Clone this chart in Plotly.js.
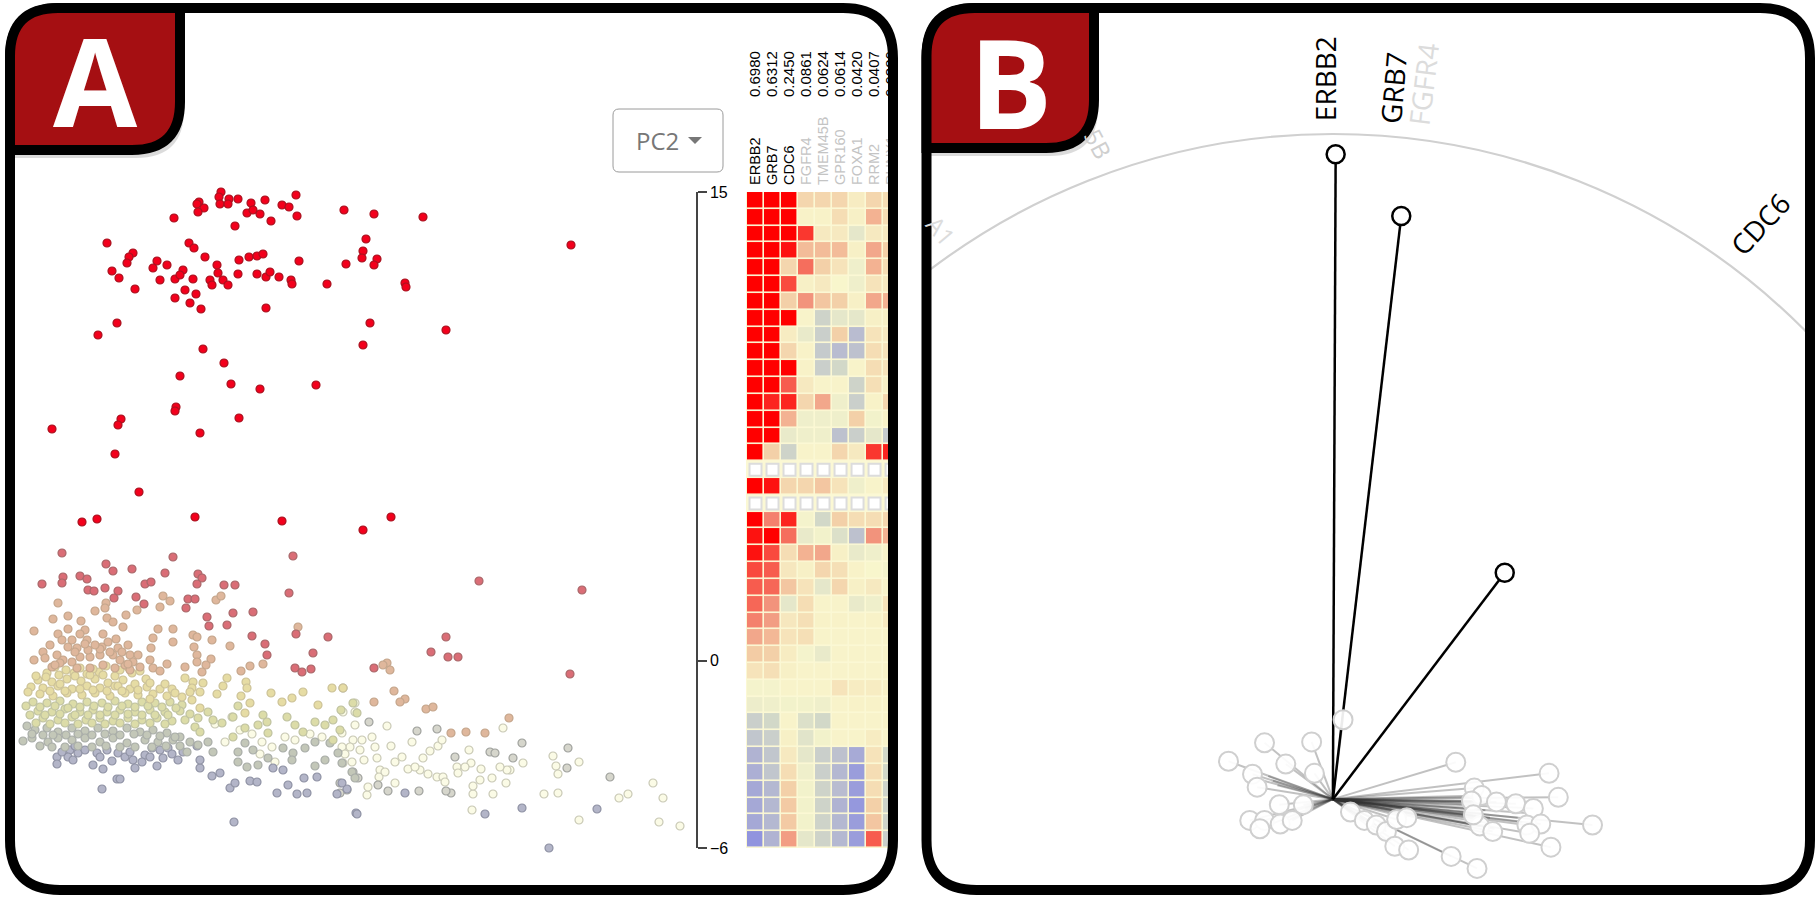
<!DOCTYPE html>
<html>
<head>
<meta charset="utf-8">
<script src="https://cdn.plot.ly/plotly-3.0.1.min.js"></script>
<style>body{margin:0;background:#fff}#graph{width:1820px;height:900px}</style>
</head>
<body>
<div id="graph"></div>
<script>
// Panel A samples, hidden score axes, grouped by the colour they show in the picture
var redX = [296,265,221,219,229,238,199,197,204,198,220,228,251,247,253,260,282,289,297,271,235,174,344,374,423,366,107,189,194,133,129,127,205,217,239,249,257,263,299,363,362,377,374,346,157,153,167,183,112,119,135,160,175,193,180,210,212,218,223,228,238,257,266,270,279,291,292,327,405,406,185,196,175,190,201,266,117,98,370,446,571,363,203,224,180,231,260,316,176,175,239,121,118,52,200,115,139,82,97,195,282,363,391];
var redY = [467,462,470,465,463,463,460,458,454,450,458,458,459,449,452,448,457,455,446,441,436,444,452,448,445,423,419,419,414,409,405,399,405,397,402,405,406,408,401,411,404,403,397,398,401,394,397,392,391,384,373,382,383,383,387,382,377,389,382,377,388,388,385,390,385,382,378,378,379,375,372,368,364,359,353,354,339,327,339,332,417,317,313,299,286,278,273,277,255,251,244,243,237,233,229,208,170,140,143,145,141,132,145];
var roseX = [62,173,293,106,113,132,165,198,202,197,63,62,42,80,87,88,94,105,118,114,145,151,136,144,224,235,289,188,195,186,233,253,207,209,227,296,328,252,265,267,313,295,302,311,479,582,446,431,448,458,570,374];
var roseY = [109,105,106,98,91,93,89,88,84,78,85,79,78,86,83,72,71,74,71,64,78,80,65,58,77,77,69,63,63,54,49,50,45,36,37,28,25,26,18,7,9,-6,-10,-7,81,72,25,10,5,5,-12,-6];
var tanX = [216,221,163,170,160,137,298,230,387,383,390,394,405,400,426,433,451,466,485,509,374,58,68,53,81,95,106,105,107,113,126,123,34,68,58,85,80,103,116,87,158,173,153,173,193,197,212,151,102,128,77,50,68,194,197,211,130,133,125,57,63,43,34,150,185,167,153,197,206,250,263,241,202,160,90,80,72,113,120,130,100,52,60,77,90,103,115,45,55,75,88,100,110,118,128,140,62,72,85,95,108,122,138];
var tanY = [62,66,66,61,55,52,35,16,-1,-3,-8,-29,-37,-40,-47,-45,-71,-70,-71,-56,-40,59,46,43,41,51,59,54,44,40,47,35,31,33,28,32,28,28,23,22,33,33,24,20,27,25,22,14,15,17,14,17,15,15,7,3,7,0,-3,7,2,10,2,2,-5,-2,-6,0,-3,-4,-2,-9,-10,-9,5,5,0,7,2,-8,7,-5,-1,-6,-6,-3,-6,4,-3,10,12,13,10,14,-2,-5,22,22,18,17,20,10,7];
var yellowX = [47,59,74,87,99,115,132,38,52,67,81,95,108,123,146,31,43,58,72,87,100,115,130,147,160,172,40,53,67,82,95,110,125,138,153,167,182,185,193,203,192,200,227,223,246,247,217,241,271,292,303,332,343,282,318,250,245,192,200,55,66,80,93,106,120,128,140,36,46,60,75,90,103,118,135,150,165,28,50,65,80,93,107,122,138,150,175,190];
var yellowY = [-11,-13,-11,-12,-10,-14,-11,-18,-20,-17,-19,-17,-21,-18,-17,-25,-26,-24,-27,-24,-26,-24,-27,-25,-27,-27,-32,-34,-31,-33,-31,-34,-31,-33,-32,-34,-35,-16,-20,-21,-26,-30,-16,-24,-20,-26,-32,-34,-31,-36,-30,-26,-26,-40,-43,-41,-51,-38,-46,-5,-8,-6,-7,-4,-8,-5,-9,-14,-15,-22,-14,-13,-13,-24,-22,-21,-22,-30,-29,-29,-27,-28,-29,-29,-28,-37,-31,-30];
var limeX = [33,47,60,73,87,102,115,128,142,155,170,182,38,52,65,80,93,107,120,135,150,165,180,43,58,72,86,100,113,128,142,157,172,185,208,213,222,233,238,263,267,258,245,287,295,303,315,325,333,341,340,333,353,357,195,200,233,268,26,40,55,68,80,94,108,122,135,148,162,176,30,45,60,75,88,100,115,128,142,155,168,36,50,65,78,92,105,120,135,150,165,190,198];
var limeY = [-40,-41,-39,-42,-40,-41,-39,-42,-40,-41,-40,-43,-49,-50,-47,-50,-48,-50,-48,-50,-48,-50,-49,-56,-58,-55,-58,-56,-59,-56,-58,-56,-59,-58,-50,-58,-61,-55,-44,-53,-60,-63,-66,-55,-63,-70,-60,-63,-58,-48,-68,-78,-41,-51,-65,-70,-75,-71,-44,-45,-44,-46,-45,-44,-45,-44,-45,-44,-45,-46,-53,-53,-52,-53,-53,-53,-53,-52,-53,-53,-53,-61,-62,-61,-62,-61,-62,-61,-62,-61,-62,-52,-56];
var greyX = [27,35,47,58,72,85,98,113,127,140,153,167,180,23,32,48,58,72,85,100,113,127,145,158,173,208,198,187,213,245,253,283,293,305,238,268,258,238,247,292,315,325,338,342,352,355,315,330,32,43,53,66,78,92,105,120,134,147,160,175,190,40,52,65,78,92,106,120,135,152,166,180];
var greyY = [-64,-68,-66,-70,-66,-69,-66,-69,-66,-70,-68,-71,-75,-79,-76,-80,-76,-78,-76,-80,-76,-81,-78,-80,-78,-80,-83,-90,-90,-81,-88,-86,-91,-86,-90,-96,-103,-100,-105,-98,-104,-98,-91,-101,-110,-116,-80,-81,-72,-73,-73,-73,-72,-73,-72,-73,-72,-73,-74,-75,-80,-84,-85,-85,-84,-85,-84,-85,-85,-85,-84,-84];
var slateX = [57,57,70,68,78,73,93,97,107,103,118,125,133,135,145,152,160,168,163,157,117,120,102,197,200,200,183,212,220,250,257,230,235,273,283,277,288,297,307,304,317,337,347,342,356,234,522,597,549,485,405,357,62,75,85,100,112,130,142,150,172,178];
var slateY = [-95,-102,-88,-95,-91,-98,-103,-91,-88,-107,-91,-95,-98,-106,-93,-86,-88,-86,-96,-104,-117,-117,-127,-84,-106,-98,-90,-114,-111,-119,-120,-126,-121,-106,-108,-131,-123,-132,-131,-116,-115,-132,-127,-121,-151,-160,-146,-147,-186,-152,-131,-152,-90,-84,-88,-95,-99,-90,-100,-95,-92,-98];
var ashX = [369,417,437,522,568,567,610,451,446,419,388,347,378,353,358,455,490,495,513,340,340,343];
var ashY = [-60,-69,-67,-81,-86,-106,-115,-131,-129,-129,-129,-128,-123,-110,-116,-95,-90,-91,-96,-121,-131,-26];
var paleX = [387,355,503,553,556,579,558,628,619,663,544,558,579,659,680,472,493,473,473,506,395,367,368,380,379,364,377,402,391,412,423,408,420,430,438,442,469,471,510,507,523,481,492,457,458,437,443,362,372,353,350,343,343,355,355,342,342,653,232,240,252,262,272,285,295,310,322,345,352,360,375,385,395,415,428,445,465,480,500,215,225,260,275];
var paleY = [-64,-63,-66,-94,-104,-100,-112,-132,-136,-136,-132,-131,-158,-160,-164,-148,-132,-132,-124,-121,-121,-133,-125,-108,-115,-98,-96,-95,-84,-80,-96,-107,-108,-89,-84,-78,-88,-101,-108,-108,-101,-107,-116,-105,-111,-115,-115,-78,-75,-78,-85,-101,-50,-41,-50,-71,-85,-121,-55,-68,-72,-80,-85,-75,-78,-72,-75,-92,-100,-88,-85,-110,-100,-105,-112,-120,-105,-118,-105,-62,-80,-92,-100];

// Panel A heatmap: one row per PC2 bin from top (15) to bottom (-6), blank bins are null
var geneNames = ['ERBB2', 'GRB7', 'CDC6', 'FGFR4', 'TMEM45B', 'GPR160', 'FOXA1', 'RRM2', 'RUNX1'];
var geneLoadings = ['0.6980', '0.6312', '0.2450', '0.0861', '0.0624', '0.0614', '0.0420', '0.0407', '0.0380'];
var blankBins = [6.11, 5.03];
var heatRows = [
    [1, 1, 1, .25, .25, .25, .08, .25, .2],
    [1, 1, 1, .03, .03, .2, .05, .45, .2],
    [1, 1, 1, .85, .1, .1, -.1, .1, .1],
    [1, 1, .95, .4, .4, .4, .05, .5, .3],
    [1, 1, .25, .7, .3, .15, -.05, .45, .2],
    [1, 1, .8, .05, .1, 0, -.05, .15, .1],
    [1, 1, .3, .6, .35, .3, .05, .5, .45],
    [1, 1, 1, .02, -.25, -.1, -.1, .05, .05],
    [1, 1, .08, -.08, -.3, .3, -.5, .15, .1],
    [1, 1, .25, .03, -.35, -.5, -.45, .2, .15],
    [1, 1, 1, .03, -.3, -.2, .02, .2, .15],
    [1, 1, .75, .1, .02, .02, -.25, .18, .05],
    [1, .9, .9, .25, .5, -.05, -.3, .03, .25],
    [1, 1, .45, -.05, -.05, -.05, .3, -.03, .03],
    [1, 1, -.08, -.05, -.05, -.45, -.3, -.1, -.35],
    [1, .3, -.25, .02, .02, .25, .1, .85, .9],
    [null, null, null, null, null, null, null, null, null],
    [1, .95, .25, .25, .35, .15, -.05, .02, .1],
    [null, null, null, null, null, null, null, null, null],
    [1, .65, .9, -.02, -.2, .3, .2, .2, .25],
    [.95, 1, .7, -.08, -.03, -.15, -.45, .6, .45],
    [.95, .8, .2, .45, .5, .05, -.08, -.05, .02],
    [.8, .75, .12, .05, .25, .18, .03, 0, -.02],
    [.75, .72, .35, .15, -.1, .25, .05, .1, .02],
    [.72, .6, -.1, .2, .02, .02, -.08, -.05, .15],
    [.65, .55, .12, .18, .03, .03, .02, .03, .1],
    [.5, .42, .15, .18, .02, .02, .02, .02, .02],
    [.32, .3, .08, -.02, -.08, .02, .02, .02, .02],
    [.15, .18, .05, .02, .02, .02, .02, .02, .02],
    [-.02, -.02, .02, .02, .02, .15, .08, .08, .05],
    [-.06, -.05, -.03, -.03, -.05, .02, .03, .03, .02],
    [-.3, -.2, .02, -.15, -.2, .02, .02, .02, .02],
    [-.4, -.3, .05, -.12, -.03, .02, .02, .08, .02],
    [-.6, -.4, .1, -.1, -.3, -.45, -.7, .15, -.2],
    [-.65, -.4, .2, -.05, -.3, -.55, -.85, .2, -.2],
    [-.72, -.55, .3, -.03, -.25, -.5, -.85, .2, -.25],
    [-.72, -.55, .33, -.03, -.25, -.6, -.9, .3, -.25],
    [-.72, -.55, .33, -.03, -.25, -.55, -.85, .35, -.25],
    [-.95, -.6, .55, -.1, -.25, -.55, -.85, .75, -.3]
];

// Panel B loadings
var topGeneX = [0.003, 0.074, 0.186];
var topGeneY = [0.698, 0.6312, 0.245];
var otherGeneX = [-.113, -.074, -.023, -.051, -.087, -.082, -.020, -.058, -.032, -.090, -.074, -.079, -.057, -.044, .133, .234, .153, .161, .150, .177, .198, .217, .244, .281, .210, .225, .159, .173, .213, .236, .128, .156, .019, .034, .047, .058, .069, .080, .067, .082, .152, .011];
var otherGeneY = [.041, .061, .062, .038, .027, .013, .028, -.006, -.006, -.023, -.023, -.032, -.027, -.023, .040, .028, .012, .004, -.002, -.003, -.005, -.010, .002, -.028, -.028, -.027, -.029, -.035, -.037, -.052, -.062, -.075, -.014, -.023, -.028, -.035, -.022, -.020, -.051, -.055, -.017, .086];
// tips that are mostly hidden in the dense bundles, only their lines show
var bundleGeneX = [.150, .152, .155, .158, .160, .150, .155, .160, .170, .165, .165, .170, .175, .200, .205, .210, -.060, -.065, -.070, -.075, -.030];
var bundleGeneY = [.002, -.002, -.006, -.010, -.015, -.004, -.018, -.022, -.026, -.030, -.012, -.020, -.032, -.020, -.025, -.015, .015, .020, .025, .020, -.010];
var circleRadius = 0.72;

function px(x) { return x / 1820; }
function py(y) { return 1 - y / 900; }

// rounded outline in page pixels, written out as a paper-referenced path
function roundedPath(x0, y0, x1, y1, r) {
    var p = function (x, y) { return px(x) + ' ' + py(y); };
    return 'M' + p(x0 + r, y0) + ' L' + p(x1 - r, y0) + ' Q' + p(x1, y0) + ' ' + p(x1, y0 + r) +
        ' L' + p(x1, y1 - r) + ' Q' + p(x1, y1) + ' ' + p(x1 - r, y1) +
        ' L' + p(x0 + r, y1) + ' Q' + p(x0, y1) + ' ' + p(x0, y1 - r) +
        ' L' + p(x0, y0 + r) + ' Q' + p(x0, y0) + ' ' + p(x0 + r, y0) + ' Z';
}

// badge: rounded at top-left and bottom-right only
function badgePath(x0, y0, x1, y1, r) {
    var p = function (x, y) { return px(x) + ' ' + py(y); };
    return 'M' + p(x0 + r, y0) + ' L' + p(x1, y0) + ' L' + p(x1, y1 - r) + ' Q' + p(x1, y1) + ' ' + p(x1 - r, y1) +
        ' L' + p(x0, y1) + ' L' + p(x0, y0 + r) + ' Q' + p(x0, y0) + ' ' + p(x0 + r, y0) + ' Z';
}

function paperShape(path, fill, lineColor, lineWidth, layer) {
    return {type: 'path', xref: 'paper', yref: 'paper', path: path, fillcolor: fill, layer: layer || 'above',
        line: {color: lineColor, width: lineWidth}};
}

var heatScale = [[0, '#8c8fe0'], [0.2, '#b0b3d2'], [0.4, '#d2d8c8'], [0.5, '#f8f6cc'], [0.65, '#f3d0a8'], [0.8, '#f2937c'], [1, '#ff0000']];

var bands = [
    [paleX, paleY, '#fbfbe6', '#c9c9b6'],
    [ashX, ashY, '#d6d6cc', '#a0a29e'],
    [slateX, slateY, '#b3b5c8', '#8f92a4'],
    [greyX, greyY, '#c3c7b8', '#a9ada8'],
    [limeX, limeY, '#dcdca8', '#bfc2a0'],
    [yellowX, yellowY, '#e6dca4', '#ccc298'],
    [tanX, tanY, '#dfb79c', '#c4a68c'],
    [roseX, roseY, '#da6d76', '#a8686a'],
    [redX, redY, '#f3001c', '#a8121f']
];

var data = [];

bands.forEach(function (b) {
    data.push({type: 'scatter', mode: 'markers', x: b[0], y: b[1], xaxis: 'x', yaxis: 'y', hoverinfo: 'skip',
        marker: {size: 8, color: b[2], line: {color: b[3], width: 1.2}}});
});

data.push({type: 'heatmap', z: heatRows, x0: 0, dx: 1, y0: 14.73, dy: -0.5385, xaxis: 'x2', yaxis: 'y2',
    zmin: -1, zmax: 1, colorscale: heatScale, showscale: false, xgap: 1.6, ygap: 1.6, hoverinfo: 'skip'});

// bins without samples are drawn as empty boxes
var blankX = [], blankY = [];
blankBins.forEach(function (y) {
    geneNames.forEach(function (g, i) { blankX.push(i); blankY.push(y); });
});
data.push({type: 'scatter', mode: 'markers', x: blankX, y: blankY, xaxis: 'x4', yaxis: 'y2', hoverinfo: 'skip', cliponaxis: true,
    marker: {symbol: 'square', size: 12, color: '#ffffff', line: {color: '#dcdcdc', width: 2}}});

// one trace per vector so the grey lines darken where they overlap
otherGeneX.concat(bundleGeneX).forEach(function (x, i) {
    data.push({type: 'scatter', mode: 'lines', x: [0, x], y: [0, otherGeneY.concat(bundleGeneY)[i]], xaxis: 'x3', yaxis: 'y3', hoverinfo: 'skip',
        line: {color: 'rgba(50,50,50,0.3)', width: 2}});
});
topGeneX.forEach(function (x, i) {
    data.push({type: 'scatter', mode: 'lines', x: [0, x], y: [0, topGeneY[i]], xaxis: 'x3', yaxis: 'y3', hoverinfo: 'skip',
        line: {color: '#000000', width: 2.5}});
});
data.push({type: 'scatter', mode: 'markers', x: topGeneX, y: topGeneY, xaxis: 'x3', yaxis: 'y3', hoverinfo: 'skip',
    marker: {size: 18, color: '#ffffff', line: {color: '#000000', width: 2.5}}});
data.push({type: 'scatter', mode: 'markers', x: otherGeneX, y: otherGeneY, xaxis: 'x3', yaxis: 'y3', hoverinfo: 'skip',
    marker: {size: 19, color: 'rgba(255,255,255,0.92)', line: {color: '#cfcfcf', width: 2}}});

var hidden = {visible: false, fixedrange: true};

var geneTicks = geneNames.map(function (g, i) {
    return '<span style="color:' + (i < 3 ? '#000000' : '#c4c4c4') + '">' + g + '</span>';
});

var layout = {
    width: 1820,
    height: 900,
    margin: {l: 0, r: 0, t: 0, b: 0},
    paper_bgcolor: '#ffffff',
    plot_bgcolor: 'rgba(0,0,0,0)',
    showlegend: false,
    font: {family: '"Liberation Sans", Arial, sans-serif', color: '#000000'},
    xaxis: Object.assign({domain: [px(16), px(745)], range: [16, 745]}, hidden),
    yaxis: Object.assign({domain: [py(886), py(13)], range: [-224, 649]}, hidden),
    xaxis2: {domain: [px(747), px(897)], range: [-0.5, 8.32], side: 'top', anchor: 'y2', tickmode: 'array', tickvals: [0, 1, 2, 3, 4, 5, 6, 7, 8],
        ticktext: geneTicks, tickangle: -90, ticks: '', showline: false, showgrid: false, zeroline: false, ticklabelstandoff: 6, tickfont: {size: 14.5}},
    yaxis2: {domain: [py(848), py(192)], range: [-6, 15], side: 'right', anchor: 'free', position: px(697), tickmode: 'array', tickvals: [-6, 0, 15],
        ticktext: ['\u22126', '0', '15'], ticks: 'outside', ticklen: 9, tickwidth: 1.5, linewidth: 1.5, showline: true, showgrid: false, zeroline: false, tickfont: {size: 16}},
    xaxis4: {domain: [px(747), px(897)], range: [-0.5, 8.32], overlaying: 'x2', side: 'top', anchor: 'free', position: py(97), tickmode: 'array', tickvals: [0, 1, 2, 3, 4, 5, 6, 7, 8],
        ticktext: geneLoadings, tickangle: -90, ticks: '', showline: false, showgrid: false, zeroline: false, tickfont: {size: 15}},
    xaxis3: Object.assign({domain: [px(931), px(1805)], range: [-0.435, 0.511]}, hidden),
    yaxis3: Object.assign({domain: [py(886), py(13)], range: [-0.094, 0.851]}, hidden),
    shapes: [
        // cream behind the heatmap cells
        {type: 'rect', xref: 'paper', yref: 'paper', x0: px(746), x1: px(888), y0: py(848), y1: py(192), layer: 'below', fillcolor: '#fbf8d4', line: {width: 0}},
        // outer circle of the biplot
        {type: 'circle', xref: 'x3', yref: 'y3', x0: -circleRadius, x1: circleRadius, y0: -circleRadius, y1: circleRadius, layer: 'below', line: {color: '#d0d0d0', width: 2.2}},
        // PC dropdown
        paperShape(roundedPath(613, 109, 723, 172, 6), '#ffffff', '#9a9a9a', 1),
        paperShape('M' + px(688) + ' ' + py(137) + ' L' + px(702) + ' ' + py(137) + ' L' + px(695) + ' ' + py(144) + ' Z', '#777777', '#777777', 0),
        // panel frames and corner badges
        paperShape(roundedPath(10, 8, 893, 890, 50), 'rgba(0,0,0,0)', '#000000', 10),
        paperShape(roundedPath(926.5, 8, 1810, 890, 50), 'rgba(0,0,0,0)', '#000000', 10),
        paperShape(badgePath(14, 12, 184, 158, 48), 'rgba(0,0,0,0.14)', 'rgba(0,0,0,0)', 0),
        paperShape(badgePath(930, 12, 1098, 156, 48), 'rgba(0,0,0,0.14)', 'rgba(0,0,0,0)', 0),
        paperShape(badgePath(10, 8, 180, 150, 48), '#a50f12', '#000000', 10),
        paperShape(badgePath(926.5, 8, 1094, 148, 48), '#a50f12', '#000000', 10)
    ],
    annotations: [
        // fixed box height keeps the tall line box of the big letters on the page
        {xref: 'paper', yref: 'paper', x: px(95), y: py(80), height: 130, text: 'A', showarrow: false, xanchor: 'center', yanchor: 'middle', font: {family: '"Open Sans", sans-serif', size: 122, color: '#ffffff', weight: 700}},
        {xref: 'paper', yref: 'paper', x: px(1010), y: py(80), height: 130, text: 'B', showarrow: false, xanchor: 'center', yanchor: 'middle', font: {family: '"Open Sans", sans-serif', size: 124, color: '#ffffff', weight: 700}},
        {xref: 'paper', yref: 'paper', x: px(657), y: py(140), text: 'PC2', showarrow: false, xanchor: 'center', yanchor: 'middle', font: {family: '"Open Sans", sans-serif', size: 24, color: '#777777'}},
        {xref: 'x3', yref: 'y3', x: -0.009, y: 0.78, text: 'ERBB2', textangle: -90, showarrow: false, font: {family: '"Open Sans", sans-serif', size: 28, color: '#000000'}},
        {xref: 'x3', yref: 'y3', x: 0.065, y: 0.77, text: 'GRB7', textangle: -85, showarrow: false, font: {family: '"Open Sans", sans-serif', size: 28, color: '#000000'}},
        {xref: 'x3', yref: 'y3', x: 0.098, y: 0.774, text: 'FGFR4', textangle: -83, showarrow: false, font: {family: '"Open Sans", sans-serif', size: 28, color: '#dcdcdc'}},
        {xref: 'x3', yref: 'y3', x: 0.462, y: 0.623, text: 'CDC6', textangle: -47, showarrow: false, font: {family: '"Open Sans", sans-serif', size: 28, color: '#000000'}},
        {xref: 'x3', yref: 'y3', x: -0.254, y: 0.71, text: '5B', textangle: 62, showarrow: false, font: {family: '"Open Sans", sans-serif', size: 24, color: '#cfcfcf'}},
        {xref: 'x3', yref: 'y3', x: -0.424, y: 0.616, text: 'A1', textangle: 50, showarrow: false, font: {family: '"Open Sans", sans-serif', size: 24, color: '#dcdcdc'}}
    ]
};

Plotly.newPlot('graph', data, layout, {displayModeBar: false});
</script>
</body>
</html>
